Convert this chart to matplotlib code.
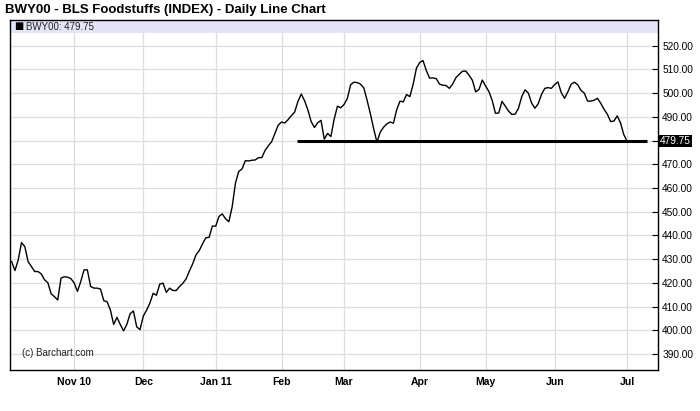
import numpy as np
import pandas as pd
import matplotlib
matplotlib.use("Agg")
import matplotlib.pyplot as plt
from matplotlib.patches import Rectangle

# daily closes, BWY00 (BLS Foodstuffs index), Oct 5 2010 - Jul 1 2011
oct_vals = [429.0, 425.2, 429.7, 437.0, 435.3, 429.0, 426.9, 424.8, 424.8, 423.8,
            421.3, 420.1, 415.4, 414.2, 412.8, 422.0, 422.6, 422.4, 421.8]
nov_vals = [420.0, 416.4, 420.6, 425.5, 425.5, 418.5, 417.8, 417.8, 417.4, 412.5,
            412.1, 408.6, 402.5, 405.5, 402.5, 399.8, 402.5, 407.0, 408.2, 401.5,
            400.3]
dec_vals = [406.0, 408.5, 411.5, 415.6, 414.8, 419.5, 419.9, 416.0, 417.8, 416.8,
            416.8, 418.5, 419.8, 421.7, 425.0, 428.0, 431.8, 433.6, 436.5, 439.0,
            439.2, 444.0]
jan_vals = [443.9, 448.0, 449.1, 447.0, 445.8, 452.0, 462.0, 467.0, 468.0, 471.5,
            471.4, 471.7, 471.8, 472.8, 472.8, 475.8, 477.8, 479.5, 483.0, 486.5]
feb_vals = [487.8, 487.4, 488.8, 490.5, 492.0, 496.5, 499.6, 496.8, 493.0, 488.0,
            485.5, 487.5, 488.5, 480.6, 483.0, 481.7, 489.0, 494.5, 493.8]
mar_vals = [495.2, 497.7, 503.5, 504.6, 504.4, 503.8, 502.2, 497.0, 491.3, 485.0,
            479.3, 483.5, 485.6, 487.0, 487.8, 487.3, 493.0, 496.6, 496.3, 499.4,
            498.5, 503.7, 510.5]
apr_vals = [512.9, 513.7, 509.5, 506.3, 506.4, 506.1, 503.8, 503.3, 503.2, 502.0,
            503.8, 506.5, 507.9, 509.2, 509.3, 507.5, 505.4, 500.5, 501.5, 505.5]
may_vals = [503.0, 500.7, 497.0, 491.5, 491.6, 496.5, 494.5, 492.4, 491.0, 491.1,
            493.6, 498.5, 501.4, 500.0, 495.8, 493.6, 495.5, 499.4, 502.0, 502.3,
            502.0]
jun_vals = [503.6, 504.7, 500.2, 497.8, 500.5, 503.7, 504.6, 503.5, 501.1, 500.0,
            496.6, 496.6, 497.0, 497.8, 495.7, 493.2, 491.1, 488.0, 488.2, 490.4,
            487.5, 482.5]
jul_vals = [479.75]

values = (oct_vals + nov_vals + dec_vals + jan_vals + feb_vals + mar_vals
          + apr_vals + may_vals + jun_vals + jul_vals)

holidays = ["2010-11-25", "2010-12-24", "2011-01-17", "2011-02-21",
            "2011-04-22", "2011-05-30"]
dates = pd.bdate_range("2010-10-05", "2011-07-01", freq="C", holidays=holidays)

month_labels = ["Nov 10", "Dec", "Jan 11", "Feb", "Mar", "Apr", "May", "Jun", "Jul"]
y_ticks = [390, 400, 410, 420, 430, 440, 450, 460, 470, 480, 490, 500, 510, 520]

support_level = 480.0
support_from, support_to = 86.7, 193.1   # trading-day index

last_value = values[-1]

x = np.arange(len(values))
month_pos = [i for i in range(1, len(dates)) if dates[i].month != dates[i - 1].month]

plt.rcParams["font.family"] = ["Liberation Sans", "DejaVu Sans"]

fig = plt.figure(figsize=(7, 4.11), dpi=100)
ax = fig.add_axes([10 / 700, 1 - 370 / 411, 648 / 700, 350 / 411])

ax.set_xlim(-0.5, 196.4)
ax.set_ylim(383.3, 530.8)

# grid
for yv in y_ticks:
    ax.axhline(yv, color="#dddddd", lw=0.9, zorder=0)
for xp in month_pos:
    ax.axvline(xp, color="#dddddd", lw=0.9, zorder=0)

# legend band at top
ax.add_patch(Rectangle((0, 1 - 13 / 350), 1, 13 / 350, transform=ax.transAxes,
                       facecolor="#e4e4f7", edgecolor="none", zorder=0.5))
ax.text(0.006, 1 - 6.5 / 350, "\u25a0", transform=ax.transAxes,
        fontsize=7, va="center", ha="left", color="black", zorder=3,
        family=["DejaVu Sans"])
ax.text(0.024, 1 - 6.5 / 350, "BWY00: 479.75", transform=ax.transAxes,
        fontsize=7, va="center", ha="left", color="#222222", zorder=3)

ax.plot(x, values, color="black", lw=1.0, zorder=2)
ax.plot([support_from, support_to], [support_level, support_level],
        color="black", lw=2.2, zorder=2.5, solid_capstyle="butt")

# y axis on right
ax.yaxis.tick_right()
ax.set_yticks(y_ticks)
ax.set_yticklabels(["" if v == 480 else f"{v:.2f}" for v in y_ticks])
ax.tick_params(axis="y", direction="in", length=4, width=0.8, labelsize=7.3,
               pad=3, colors="black")

ax.set_xticks(month_pos)
ax.set_xticklabels(month_labels, fontweight="bold")
ax.tick_params(axis="x", length=0, labelsize=7.5, pad=5)

for s in ax.spines.values():
    s.set_linewidth(1.0)
    s.set_color("black")

# last value tag
ax.text(1.003, last_value, f"{last_value:.2f}",
        transform=ax.get_yaxis_transform(), fontsize=7.3, color="white",
        va="center", ha="left",
        bbox=dict(boxstyle="square,pad=0.12", facecolor="black", edgecolor="none"))

ax.text(0.018, 0.035, "(c) Barchart.com", transform=ax.transAxes, fontsize=7,
        color="#222222", ha="left", va="bottom")

fig.text(5 / 700, 1 - 10 / 411, "BWY00 - BLS Foodstuffs (INDEX) - Daily Line Chart",
         fontsize=9.5, fontweight="bold", ha="left", va="center")

fig.savefig("out.png", dpi=100)
